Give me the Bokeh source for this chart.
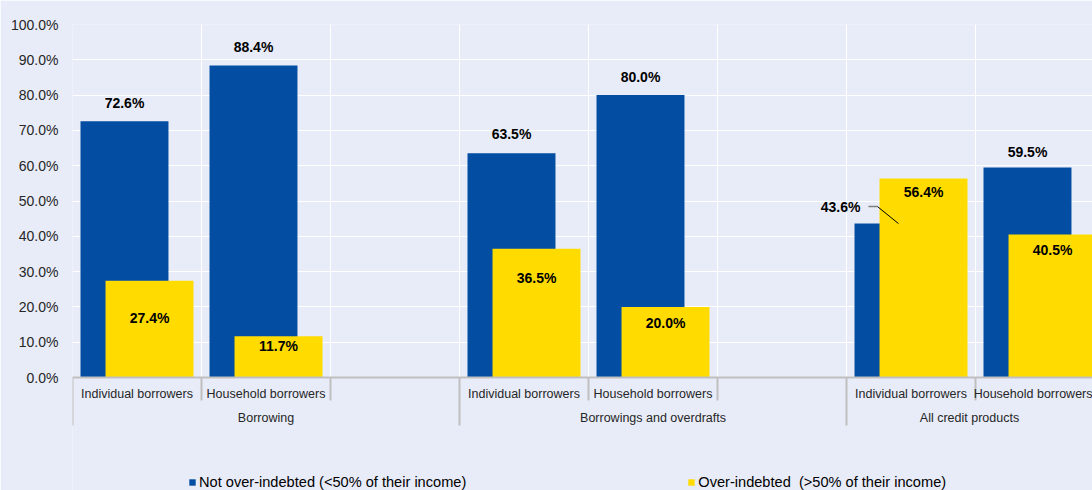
from bokeh.plotting import figure
from bokeh.models import (Range1d, FixedTicker, LinearAxis, PrintfTickFormatter,
                          Legend, LegendItem, ColumnDataSource)
from bokeh.embed import file_html
from bokeh.resources import INLINE
from bokeh.core.properties import value

# ---------------- data ----------------
groups = ["Borrowing", "Borrowings and overdrafts", "All credit products"]
subcats = ["Individual borrowers", "Household borrowers"]
not_over = [72.6, 88.4, 63.5, 80.0, 43.6, 59.5]
over = [27.4, 11.7, 36.5, 20.0, 56.4, 40.5]
series_names = ["Not over-indebted (<50% of their income)",
                "Over-indebted  (>50% of their income)"]
y_ticks = list(range(0, 101, 10))

# ---------------- style ----------------
BG = "#E8ECF8"
BLUE = "#034EA2"
YELLOW = "#FFDB00"
AXIS_GRAY = "#BFBFBF"
TXT = "#262626"
FONT = "Liberation Sans"

W, H = 1092, 490
LEFT, TOP = 72, 24
ZERO_PX = 353                     # pixels from frame top to the 0% line
SLOT_PX = 129.0
SLOTS_PER_GROUP = 3
frame_w = W - LEFT
frame_h = H - TOP
x_end = frame_w / SLOT_PX
ppu = ZERO_PX / 100.0             # pixels per percentage point
y_start = -(frame_h - ZERO_PX) / ppu
BAR_W = 0.682
OFF = 0.097

blue_dy_px = [18, 18, 19, 18, 17, 15]     # label above blue bar
yellow_dy_px = [37, 10, 29, 16, 14, 15]   # label below yellow bar top

# ---------------- derived positions ----------------
slot_idx = [g * SLOTS_PER_GROUP + s for g in range(len(groups)) for s in range(len(subcats))]
centers = [i + 0.5 for i in slot_idx]
xb = [c - OFF for c in centers]
xy = [c + OFF for c in centers]
sub_labels = [subcats[s] for g in range(len(groups)) for s in range(len(subcats))]
n_slots = len(groups) * SLOTS_PER_GROUP
all_bounds = list(range(0, n_slots + 1))
group_bounds = [g * SLOTS_PER_GROUP for g in range(len(groups) + 1)]
inner_bounds = [b for b in all_bounds if b not in group_bounds]
group_centers = []
for g in range(len(groups)):
    a = g * SLOTS_PER_GROUP
    b = min((g + 1) * SLOTS_PER_GROUP, x_end)
    group_centers.append((a + b) / 2.0)

p = figure(width=W, height=H, output_backend="svg", toolbar_location=None,
           x_range=Range1d(0, x_end), y_range=Range1d(y_start, 100),
           min_border_left=LEFT, min_border_right=0, min_border_top=TOP,
           min_border_bottom=0, background_fill_color=BG,
           border_fill_color=BG, outline_line_color=None)

# grids
p.ygrid.ticker = FixedTicker(ticks=y_ticks)
p.ygrid.grid_line_color = "white"
p.ygrid.grid_line_width = 1
p.xgrid.ticker = FixedTicker(ticks=all_bounds)
p.xgrid.grid_line_color = "white"
p.xgrid.grid_line_width = 1
try:
    p.xgrid.cross_bounds = (0, 100)
except Exception:
    p.xgrid.grid_line_color = None
    p.segment(x0=all_bounds, x1=all_bounds, y0=[0] * len(all_bounds),
              y1=[100] * len(all_bounds), line_color="white", line_width=1)

# y axis
ya = p.yaxis[0]
ya.ticker = FixedTicker(ticks=y_ticks)
ya.formatter = PrintfTickFormatter(format="%.1f%%")
ya.axis_line_color = None
ya.major_tick_line_color = None
ya.minor_tick_line_color = None
ya.major_tick_out = 0
ya.major_tick_in = 0
ya.major_label_standoff = 14
ya.major_label_text_font = FONT
ya.major_label_text_font_size = "14px"
ya.major_label_text_color = TXT

# x axis: sub-categories (drawn at the 0% line)
xa = p.xaxis[0]
xa.fixed_location = 0
xa.ticker = FixedTicker(ticks=centers, minor_ticks=inner_bounds)
xa.major_label_overrides = {c: lab for c, lab in zip(centers, sub_labels)}
xa.axis_line_color = AXIS_GRAY
xa.axis_line_width = 2
xa.major_tick_line_color = None
xa.major_tick_out = 0
xa.major_tick_in = 0
xa.minor_tick_line_color = AXIS_GRAY
xa.minor_tick_line_width = 2
xa.minor_tick_out = 23
xa.minor_tick_in = 0
xa.major_label_standoff = -14
xa.major_label_text_font = FONT
xa.major_label_text_font_size = "12.5px"
xa.major_label_text_color = TXT

# x axis: groups
xa2 = LinearAxis(ticker=FixedTicker(ticks=group_centers, minor_ticks=group_bounds),
                 major_label_overrides={c: g for c, g in zip(group_centers, groups)},
                 fixed_location=0)
xa2.axis_line_color = None
xa2.major_tick_line_color = None
xa2.major_tick_out = 0
xa2.major_tick_in = 0
xa2.minor_tick_line_color = AXIS_GRAY
xa2.minor_tick_line_width = 2
xa2.minor_tick_out = 48
xa2.minor_tick_in = 0
xa2.major_label_standoff = -15
xa2.major_label_text_font = FONT
xa2.major_label_text_font_size = "12.5px"
xa2.major_label_text_color = TXT
p.add_layout(xa2, "below")

# bars
src = ColumnDataSource(dict(xb=xb, xy=xy, nb=not_over, ov=over))
rb = p.vbar(x="xb", top="nb", width=BAR_W, source=src, fill_color=BLUE, line_color=None)
ry = p.vbar(x="xy", top="ov", width=BAR_W, source=src, fill_color=YELLOW, line_color=None)

# labels
fmt = lambda v: f"{v:.1f}%"
special = 4
nb_x = [xb[i] for i in range(len(xb)) if i != special]
nb_y = [not_over[i] + blue_dy_px[i] / ppu for i in range(len(xb)) if i != special]
nb_t = [fmt(not_over[i]) for i in range(len(xb)) if i != special]
p.text(x=nb_x, y=nb_y, text=nb_t, text_align="center", text_baseline="middle",
       text_font=value(FONT), text_font_size="14px", text_font_style="bold",
       text_color="#000000")
ov_y = [over[i] - yellow_dy_px[i] / ppu for i in range(len(xy))]
p.text(x=xy, y=ov_y, text=[fmt(v) for v in over], text_align="center",
       text_baseline="middle", text_font=value(FONT), text_font_size="14px",
       text_font_style="bold", text_color="#000000")

# special label with leader line (43.6%)
sx = xb[special]
sv = not_over[special]
ly = sv + blue_dy_px[special] / ppu
p.line(x=[sx - 30 / SLOT_PX, sx - 21 / SLOT_PX], y=[ly, ly],
       line_color="#7F7F7F", line_width=1.5)
p.line(x=[sx - 21 / SLOT_PX, sx], y=[ly, sv], line_color="#000000", line_width=1)
p.text(x=[sx - 38 / SLOT_PX], y=[ly], text=[fmt(sv)], text_align="right",
       text_baseline="middle", text_font=value(FONT), text_font_size="14px",
       text_font_style="bold", text_color="#000000")

# legend
lg = Legend(items=[LegendItem(label=series_names[0], renderers=[rb]),
                   LegendItem(label=series_names[1], renderers=[ry])],
            location=(116, 0), orientation="horizontal", glyph_width=8,
            glyph_height=8, label_standoff=3, padding=0, margin=0, spacing=221,
            background_fill_alpha=0, border_line_color=None,
            label_text_font=FONT, label_text_font_size="14.6px",
            label_text_color="#000000")
p.add_layout(lg, "center")

open("out.html", "w").write(file_html(p, INLINE))
